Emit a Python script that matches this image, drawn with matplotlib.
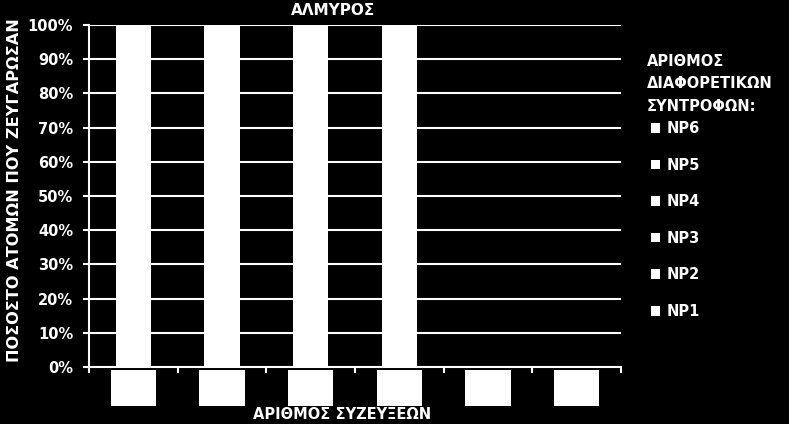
import matplotlib
matplotlib.use('Agg')
import matplotlib.pyplot as plt
import numpy as np

plt.rcParams['font.family'] = ['DejaVu Sans']
plt.rcParams['font.weight'] = 'bold'

# δεδομενα
syzeyxeis = ['1', '2', '3', '4', '5', '6']
NP1 = [100, 0, 0, 0, 0, 0]
NP2 = [0, 100, 0, 0, 0, 0]
NP3 = [0, 0, 100, 0, 0, 0]
NP4 = [0, 0, 0, 100, 0, 0]
NP5 = [0, 0, 0, 0, 0, 0]
NP6 = [0, 0, 0, 0, 0, 0]
onomata = ['NP1', 'NP2', 'NP3', 'NP4', 'NP5', 'NP6']
seires = [NP1, NP2, NP3, NP4, NP5, NP6]

W, H = 789, 424
fig = plt.figure(figsize=(W/100, H/100), dpi=100, facecolor='black')
ax = fig.add_axes([89/W, 1-367/H, (621-89)/W, (367-25)/H], facecolor='black')

x = np.arange(len(syzeyxeis))
bottom = np.zeros(len(syzeyxeis))
bars = []
for name, s in zip(onomata, seires):
    b = ax.bar(x, s, 0.4, bottom=bottom, color='white', edgecolor='white',
               linewidth=0, label=name, zorder=3)
    bars.append(b)
    bottom += np.array(s)

ax.set_xlim(-0.5, len(syzeyxeis)-0.5)
ax.set_ylim(0, 100)
ax.set_yticks(np.arange(0, 101, 10))
ax.set_yticklabels(['%d%%' % v for v in range(0, 101, 10)], fontsize=10.5,
                   color='white', fontweight='bold')
ax.yaxis.grid(True, color='white', linewidth=1.5, zorder=1)
ax.set_axisbelow(True)

ax.set_xticks(x)
ax.set_xticklabels(['  ' + c + '  ' for c in syzeyxeis], fontsize=10, color='white',
                   family='Liberation Sans',
                   bbox=dict(boxstyle='square,pad=0.8', fc='white', ec='none'))
ax.set_xticks(np.arange(-0.5, len(syzeyxeis), 1), minor=True)
ax.tick_params(axis='x', which='major', length=0, pad=10.2)
ax.tick_params(axis='x', which='minor', length=4.3, width=1.5, color='white')
ax.tick_params(axis='y', length=4.3, width=1.5, color='white', pad=7)

for sp in ['top', 'right']:
    ax.spines[sp].set_visible(False)
for sp in ['left', 'bottom']:
    ax.spines[sp].set_color('white')
    ax.spines[sp].set_linewidth(1.5)

ax.set_title('ΑΛΜΥΡΟΣ', color='white', fontsize=11, fontweight='bold',
             x=(333-89)/532, y=(367-15)/342, pad=0)
ax.set_ylabel('ΠΟΣΟΣΤΟ ΑΤΟΜΩΝ ΠΟΥ ΖΕΥΓΑΡΩΣΑΝ', color='white', fontsize=11.6,
              fontweight='bold')
ax.yaxis.set_label_coords((22-89)/532, (367-190)/342)
ax.set_xlabel('ΑΡΙΘΜΟΣ ΣΥΖΕΥΞΕΩΝ', color='white', fontsize=10.5, fontweight='bold')
ax.xaxis.set_label_coords((342-89)/532, (367-407)/342)

fig.text(647/W, 1-54/H, 'ΑΡΙΘΜΟΣ\nΔΙΑΦΟΡΕΤΙΚΩΝ\nΣΥΝΤΡΟΦΩΝ:', color='white',
         fontsize=10.5, fontweight='bold', va='top', ha='left', linespacing=1.62)

leg = ax.legend(handles=bars[::-1], loc='upper left',
                bbox_to_anchor=(651/W, 1-121/H), bbox_transform=fig.transFigure,
                frameon=False, fontsize=10.5, labelcolor='white',
                handlelength=0.65, handleheight=0.65, handletextpad=0.45,
                labelspacing=1.48, borderpad=0, borderaxespad=0)

fig.savefig('out.png', dpi=100, facecolor='black')
